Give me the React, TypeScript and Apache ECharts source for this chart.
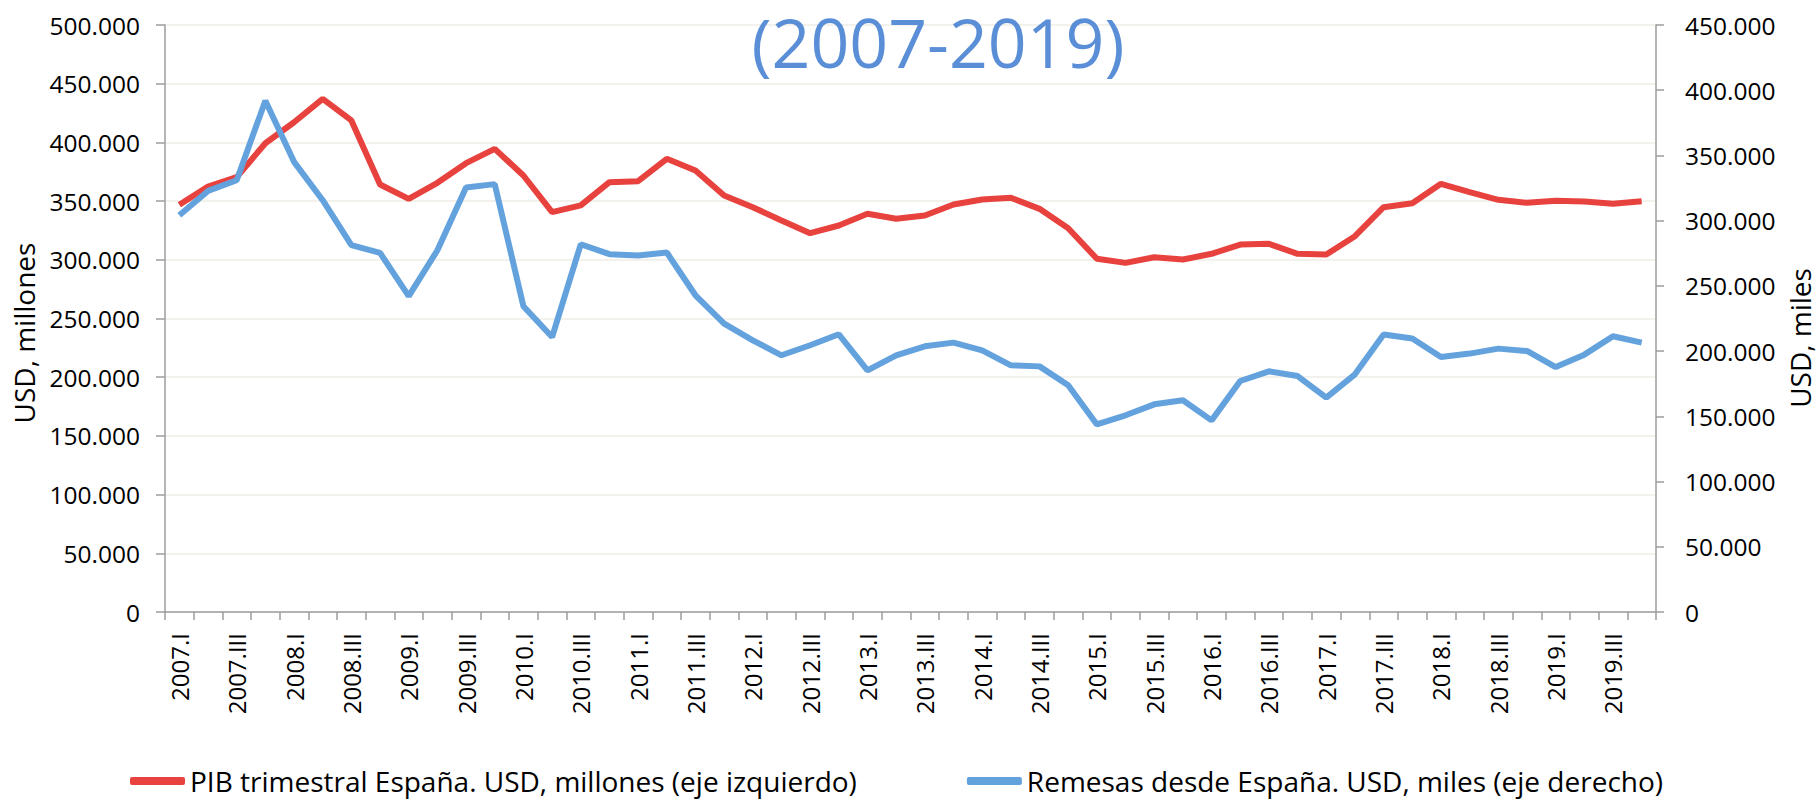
import React, { useEffect, useRef } from "react";
import * as echarts from "echarts";

const years = [2007, 2008, 2009, 2010, 2011, 2012, 2013, 2014, 2015, 2016, 2017, 2018, 2019];
const quarters = ["I", "II", "III", "IV"];
const categories: string[] = years.flatMap((y) => quarters.map((q) => `${y}.${q}`));

const pibTrimestral = [
  346900, 362400, 370400, 399300, 417200, 437100, 418700, 364100, 351900, 365600, 382300, 394500, 371800,
  340600, 346300, 366100, 367000, 386000, 376100, 354800, 344800, 333500, 322700, 329200, 339200, 334900,
  337700, 347100, 351400, 352800, 343400, 326900, 300900, 297400, 302200, 300200, 305100, 313000, 313600,
  305100, 304500, 320100, 344800, 348200, 364700, 357600, 351100, 348600, 350300, 349700, 347700, 349900,
];

const remesas = [
  304200, 322800, 331000, 391900, 345100, 315700, 281200, 275300, 242100, 277300, 325400, 328000, 234400,
  210800, 281900, 274300, 273300, 275600, 242800, 221100, 208300, 196800, 204500, 212900, 185300, 196800,
  203700, 206500, 200600, 189100, 188300, 173800, 143800, 150800, 159200, 162300, 146900, 177100, 184500,
  180900, 164300, 182200, 212700, 209600, 195500, 198100, 201900, 200100, 187800, 197300, 211400, 206500,
];

const titleText = "(2007-2019)";
const leftAxisName = "USD, millones";
const rightAxisName = "USD, miles";
const seriesNames = [
  "PIB trimestral España. USD, millones (eje izquierdo)",
  "Remesas desde España. USD, miles (eje derecho)",
];

const FONT = "'Open Sans', 'Noto Sans', sans-serif";
const RED = "#E8423E";
const BLUE = "#64A2DE";
const TITLE_BLUE = "#5A8FD7";
const AXIS_GRAY = "#9C9C9C";

const fmt = (v: number) => (v === 0 ? "0" : String(v).replace(/\B(?=(\d{3})+(?!\d))/g, "."));

export default function App() {
  const ref = useRef<HTMLDivElement>(null);

  useEffect(() => {
    if (!ref.current) return;
    const chart = echarts.init(ref.current, undefined, { renderer: "svg" });
    chart.setOption({
      animation: false,
      backgroundColor: "#ffffff",
      textStyle: { fontFamily: FONT },
      title: {
        text: titleText,
        left: 938,
        top: 3,
        padding: 0,
        textAlign: "center",
        textStyle: { fontSize: 68, fontWeight: "normal", color: TITLE_BLUE, fontFamily: FONT, lineHeight: 76 },
      },
      graphic: [
        {
          type: "text",
          x: 24,
          y: 333,
          rotation: Math.PI / 2,
          style: {
            text: leftAxisName,
            fontSize: 28,
            fontFamily: FONT,
            fill: "#000",
            align: "center",
            verticalAlign: "middle",
          },
        },
        {
          type: "text",
          x: 1800,
          y: 338,
          rotation: Math.PI / 2,
          style: {
            text: rightAxisName,
            fontSize: 28,
            fontFamily: FONT,
            fill: "#000",
            align: "center",
            verticalAlign: "middle",
          },
        },
      ],
      legend: {
        left: 130,
        top: 767,
        padding: 0,
        itemWidth: 55,
        itemHeight: 8,
        itemGap: 110,
        icon: "roundRect",
        textStyle: { fontSize: 28, color: "#000", fontFamily: FONT },
        data: seriesNames,
      },
      grid: { left: 165, right: 164, top: 25, bottom: 188, containLabel: false },
      xAxis: {
        type: "category",
        data: categories,
        boundaryGap: true,
        axisLine: { lineStyle: { color: AXIS_GRAY, width: 1.5 } },
        axisTick: { show: true, interval: 0, length: 8, lineStyle: { color: AXIS_GRAY, width: 1.5 } },
        axisLabel: { interval: 1, rotate: 90, margin: 21, fontSize: 24, color: "#000", fontFamily: FONT },
        splitLine: { show: false },
      },
      yAxis: [
        {
          type: "value",
          min: 0,
          max: 500000,
          interval: 50000,
          position: "left",
          axisLine: { show: true, lineStyle: { color: AXIS_GRAY, width: 1.5 } },
          axisTick: { show: true, length: 9, lineStyle: { color: AXIS_GRAY, width: 1.5 } },
          axisLabel: { formatter: fmt, margin: 25, fontSize: 24.5, color: "#000", fontFamily: FONT },
          splitLine: { show: true, lineStyle: { color: "#EEECE4", width: 1.5 } },
        },
        {
          type: "value",
          min: 0,
          max: 450000,
          interval: 50000,
          position: "right",
          axisLine: { show: true, lineStyle: { color: AXIS_GRAY, width: 1.5 } },
          axisTick: { show: true, length: 8, lineStyle: { color: AXIS_GRAY, width: 1.5 } },
          axisLabel: { formatter: fmt, margin: 29, fontSize: 24.5, color: "#000", fontFamily: FONT },
          splitLine: { show: false },
        },
      ],
      series: [
        {
          name: seriesNames[0],
          type: "line",
          yAxisIndex: 0,
          data: pibTrimestral,
          symbol: "none",
          lineStyle: { color: RED, width: 6 },
          itemStyle: { color: RED },
        },
        {
          name: seriesNames[1],
          type: "line",
          yAxisIndex: 1,
          data: remesas,
          symbol: "none",
          lineStyle: { color: BLUE, width: 6 },
          itemStyle: { color: BLUE },
        },
      ],
    });
    return () => chart.dispose();
  }, []);

  return (
    <div
      ref={ref}
      style={{ position: "fixed", left: 0, top: 0, width: 1820, height: 800, background: "#fff" }}
    />
  );
}
